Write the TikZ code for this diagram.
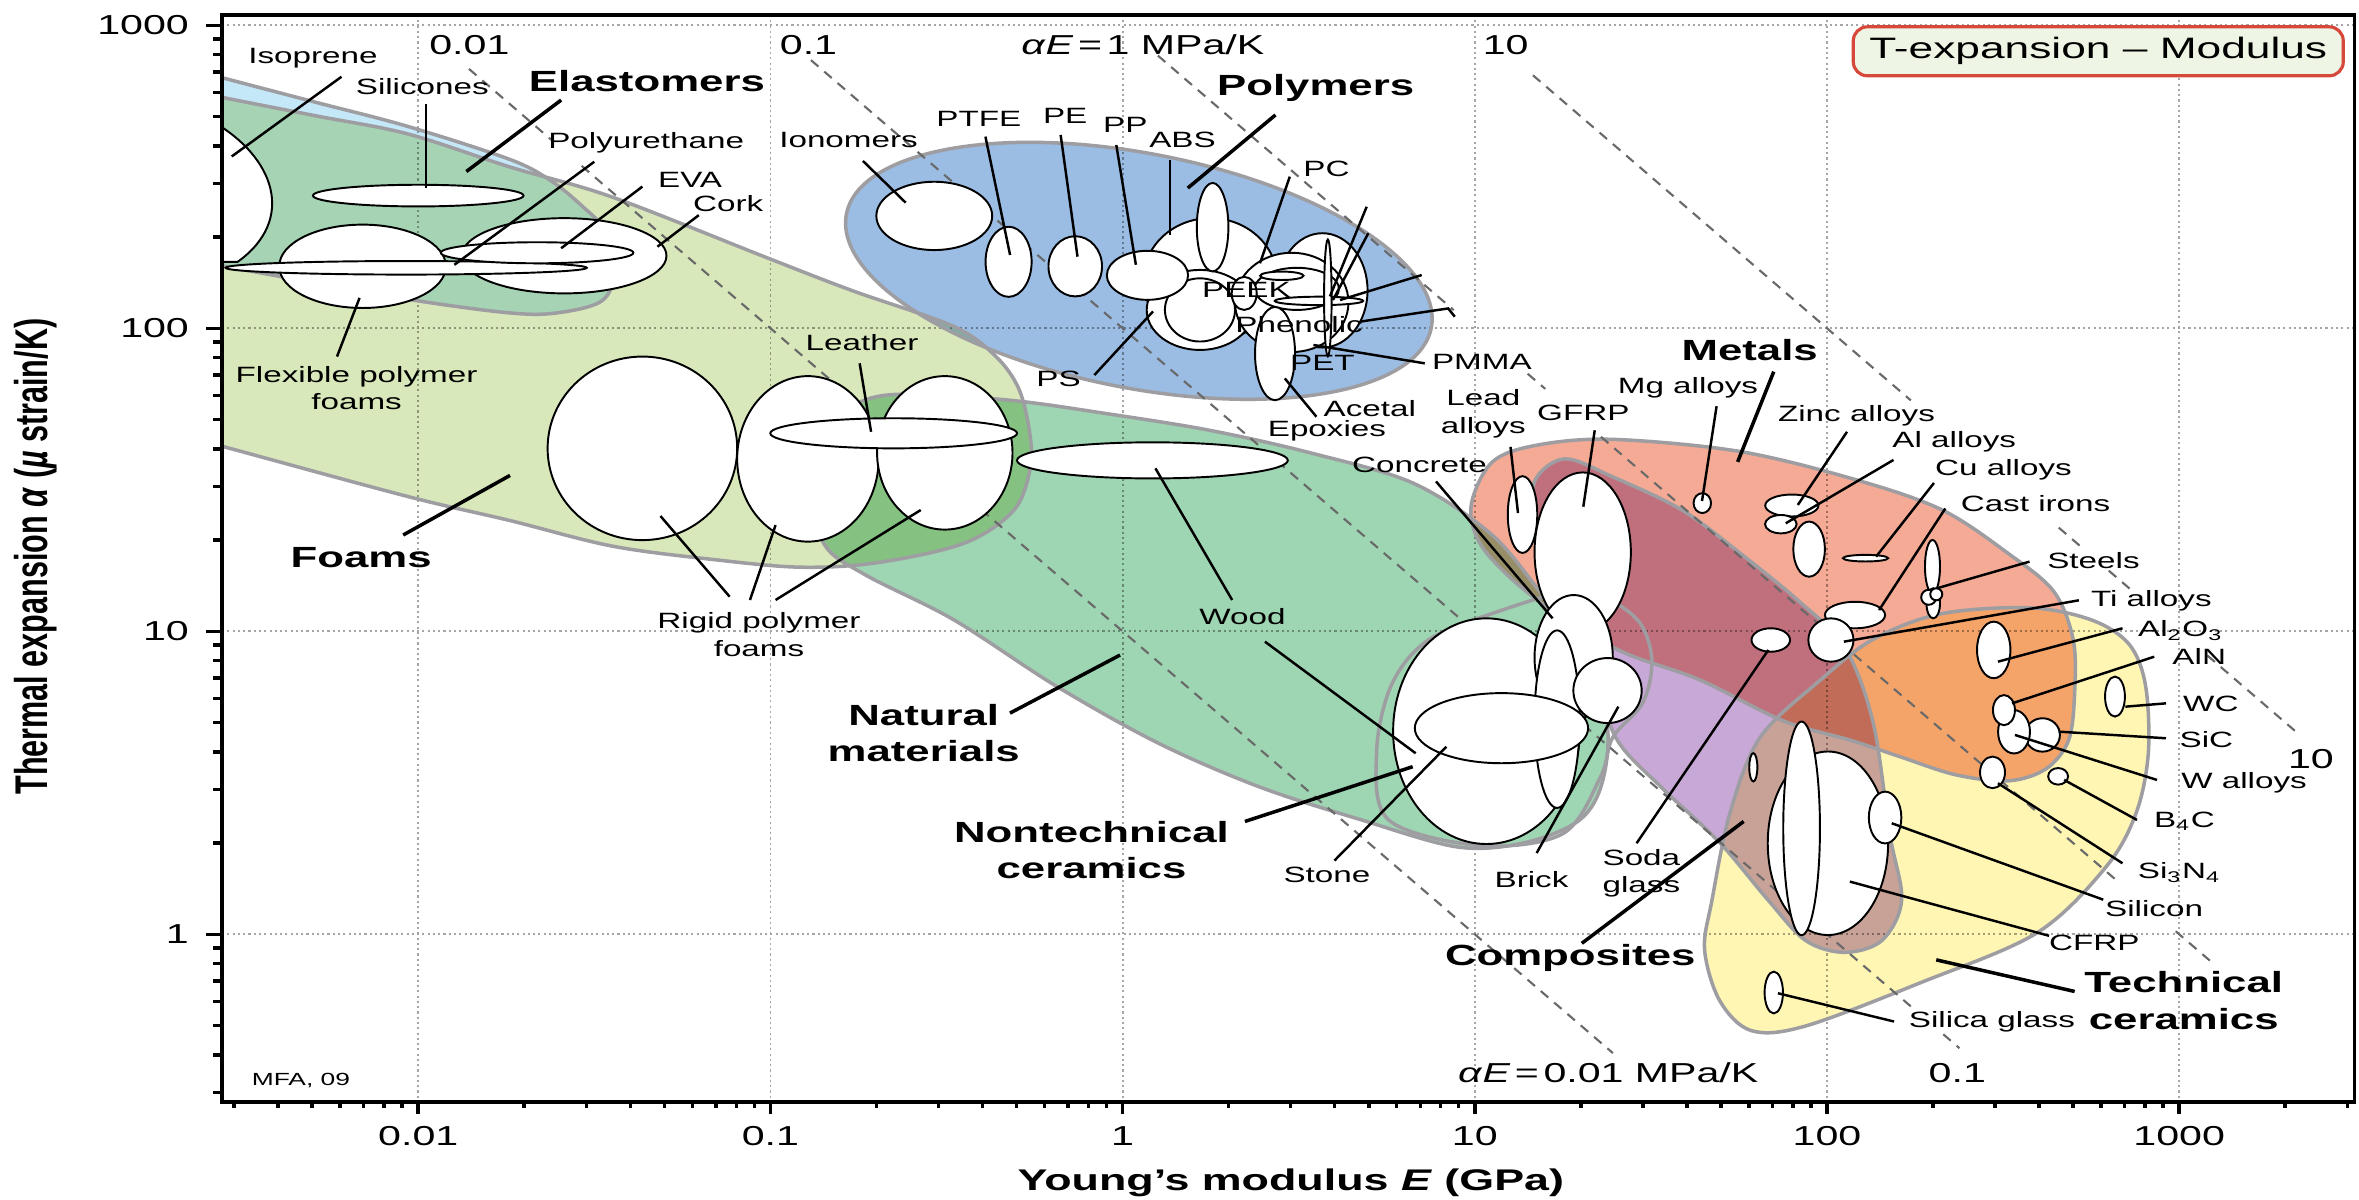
\documentclass[tikz,border=0pt]{standalone}
\usepackage{fontspec}
\setmainfont{Liberation Sans}[FakeStretch=1.5]
\newfontfamily\plainsans{Liberation Sans}
\usepackage{graphicx}

\definecolor{foamgreen}{RGB}{216,232,186}
\definecolor{elastblue}{RGB}{196,232,248}
\definecolor{polyblue}{RGB}{155,189,228}
\definecolor{natgreen}{RGB}{158,213,178}
\definecolor{metalsalmon}{RGB}{245,170,150}
\definecolor{compviolet}{RGB}{200,168,214}
\definecolor{ceramyellow}{RGB}{255,246,180}
\definecolor{hullgray}{RGB}{158,158,162}
\definecolor{guidegray}{RGB}{105,105,105}
\definecolor{gridgray}{RGB}{165,165,165}
\definecolor{boxred}{RGB}{214,72,58}
\definecolor{boxfill}{RGB}{238,245,228}

% envelopes of the material families
\newcommand{\elasthull}{plot[smooth cycle, tension=0.55] coordinates {(100,39) (149,52) (210,68) (271,84) (339,106) (366,120) (387,137) (404,155) (409,180) (400,200) (370,208) (339,208) (278,200) (210,188) (149,177) (100,168)}}
\newcommand{\foamhull}{plot[smooth cycle, tension=0.55] coordinates {(100,55) (149,65) (210,77) (271,89) (339,111) (407,131) (509,171) (566,193) (634,217) (662,237) (677,258) (684,285) (685,310) (674,339) (641,361) (583,374) (532,377) (475,372) (407,363) (339,346) (271,330) (149,297) (100,284)}}
\newcommand{\polyhull}{(757,180) ellipse [x radius=198, y radius=78]}
\newcommand{\naturalhull}{plot[smooth cycle, tension=0.55] coordinates {(600,262) (671,266) (736,275) (804,286) (871,301) (939,321) (990,354) (1021,390) (1050,430) (1068,480) (1065,520) (1050,545) (1014,560) (969,563) (905,545) (837,523) (770,494) (702,456) (634,412) (575,382) (548,362) (540,325) (552,285) (570,268)}}
\newcommand{\metalhull}{plot[smooth cycle, tension=0.55] coordinates {(978,335) (992,307) (1021,296) (1071,292) (1156,300) (1234,319) (1291,339) (1335,368) (1365,393) (1378,425) (1379,460) (1375,492) (1360,511) (1335,519) (1300,515) (1263,503) (1230,492) (1185,479) (1130,452) (1080,434) (1040,412) (1005,385) (983,360)}}
\newcommand{\comphull}{plot[smooth cycle, tension=0.55] coordinates {(1040,305) (1072,317) (1118,339) (1157,368) (1195,399) (1226,430) (1245,480) (1256,554) (1264,598) (1251,625) (1226,633) (1200,625) (1175,598) (1143,560) (1105,524) (1075,492) (1060,450) (1040,400) (1022,350) (1020,320)}}
\newcommand{\ceramhull}{plot[smooth cycle, tension=0.55] coordinates {(1210,452) (1245,425) (1290,408) (1349,404) (1390,412) (1415,428) (1426,455) (1428,500) (1420,540) (1400,576) (1354,620) (1277,653) (1200,682) (1164,685) (1143,665) (1133,631) (1138,598) (1150,540) (1170,490)}}
\newcommand{\nontechhull}{plot[smooth cycle, tension=0.55] coordinates {(923,545) (984,562) (1039,554) (1064,516) (1072,490) (1092,467) (1098,439) (1090,414) (1068,398) (1040,394) (1000,405) (950,425) (925,455) (915,500)}}

% guide line alpha*E = 10^(#1-3) MPa/K, drawn from log E = #2 to log E = #3
\newcommand{\guideseg}[3]{\draw[guide] ({746.2+234.1*(#2)},{621-201.4*((#1)-(#2))}) -- ({746.2+234.1*(#3)},{621-201.4*((#1)-(#3))});}

\tikzset{
  lbl/.style={inner sep=0pt, align=center, font=\fontsize{6.3}{7.8}\selectfont},
  grp/.style={inner sep=0pt, align=center, font=\fontsize{8.3}{10.3}\selectfont\bfseries},
  ticklbl/.style={inner sep=0pt, font=\fontsize{7.8}{9}\selectfont},
  blob/.style={draw=black, fill=white, line width=0.55pt},
  leader/.style={draw=black, line width=0.7pt},
  grpleader/.style={draw=black, line width=1pt},
  hull/.style={draw=hullgray, line width=1pt},
  polytilt/.style={rotate around={-11:(757,180)}},
  guide/.style={draw=guidegray, line width=0.6pt, dash pattern=on 2.8pt off 2.2pt},
  gridline/.style={draw=gridgray, line width=0.5pt, dash pattern=on 0.6pt off 0.9pt},
  axistick/.style={draw=black, line width=1pt},
  axisline/.style={draw=black, line width=1.1pt}
}

\begin{document}
\begin{tikzpicture}[x=0.015045cm, y=-0.015045cm]
    \useasboundingbox (0,0) rectangle (1568,797);

    % Define the corners of the plot frame
    \coordinate (LL) at (147.6,732.5);
    \coordinate (UR) at (1565,10);

    % Dotted grid at the decades
    \foreach \d in {-2,...,3}
        \draw[gridline] ({746.2+234.1*\d},10) -- ({746.2+234.1*\d},732.5);
    \foreach \d in {0,...,3}
        \draw[gridline] (147.6,{621-201.4*\d}) -- (1565,{621-201.4*\d});

    \begin{scope}
        \clip (LL) rectangle (UR);

        % Fill the family envelopes
        \begin{scope}[blend mode=multiply]
            \fill[foamgreen] \foamhull;
            \fill[elastblue] \elasthull;
            \fill[polyblue, polytilt] \polyhull;
            \fill[natgreen] \naturalhull;
            \fill[metalsalmon] \metalhull;
            \fill[compviolet] \comphull;
            \fill[ceramyellow] \ceramhull;
        \end{scope}

        % Outline the envelopes
        \draw[hull] \foamhull;
        \draw[hull] \elasthull;
        \draw[hull, polytilt] \polyhull;
        \draw[hull] \naturalhull;
        \draw[hull] \nontechhull;
        \draw[hull] \metalhull;
        \draw[hull] \comphull;
        \draw[hull] \ceramhull;

        % Guide lines of constant alpha*E
        \guideseg{1}{-1.856}{-1.622}
        \guideseg{1}{-1.536}{1.392}
        \guideseg{2}{-0.885}{2.244}
        \guideseg{2}{2.33}{2.376}
        \guideseg{3}{0.1}{0.94}
        \guideseg{3}{1.15}{1.2}
        \guideseg{3}{1.358}{2.83}
        \guideseg{3}{2.99}{3.10}
        \guideseg{4}{1.165}{2.238}
        \guideseg{4}{2.658}{2.72}
        \guideseg{4}{2.80}{2.86}
        \guideseg{4}{3.08}{3.333}

        % Elastomers and foams
        \draw[blob] (241,177) ellipse [x radius=55.4, y radius=27.7];
        \draw[blob] (375,170) ellipse [x radius=68, y radius=25];
        \draw[blob] (270,178) ellipse [x radius=120, y radius=4.5];
        \draw[blob] (357,168) ellipse [x radius=64, y radius=7];
        \draw[blob] (278,130) ellipse [x radius=70, y radius=7.2];
        \draw[blob] (140,80) .. controls (183,104) and (197,146) .. (158,174) -- (120,174) -- (120,80) -- cycle;
        \draw[blob] (427,298) ellipse [x radius=63, y radius=61];
        \draw[blob] (537,305) ellipse [x radius=47, y radius=55];
        \draw[blob] (628,301) ellipse [x radius=45, y radius=51];
        \draw[blob] (594,288) ellipse [x radius=82, y radius=10];

        % Polymers
        \draw[blob] (621,143.5) ellipse [x radius=38.5, y radius=22.7];
        \draw[blob] (670.4,174) ellipse [x radius=15.3, y radius=23.3];
        \draw[blob] (714.7,177) ellipse [x radius=17.8, y radius=20];
        \draw[blob] (804.5,186) ellipse [x radius=44.5, y radius=41];
        \draw[blob] (797.6,206) ellipse [x radius=35.4, y radius=26.6];
        \draw[blob] (797.6,206) ellipse [x radius=23.3, y radius=21];
        \draw[blob] (806,151) ellipse [x radius=10.5, y radius=29.4];
        \draw[blob] (762.7,183) ellipse [x radius=27, y radius=16.3];
        \draw[blob] (879,193) ellipse [x radius=30, y radius=38];
        \draw[blob] (858.6,201) ellipse [x radius=37.7, y radius=33];
        \draw[blob] (862,192) ellipse [x radius=28, y radius=14];
        \draw[blob] (827,195) ellipse [x radius=8.3, y radius=11];
        \draw[blob] (847.5,235) ellipse [x radius=13.3, y radius=31];
        \draw[blob] (852,183.3) ellipse [x radius=14.4, y radius=2.8];
        \draw[blob] (876.7,200) ellipse [x radius=29.4, y radius=2.8];
        \draw[blob] (882.6,198) ellipse [x radius=2.5, y radius=38.8];

        % Natural materials and nontechnical ceramics
        \draw[blob] (766,306) ellipse [x radius=90, y radius=12];
        \draw[blob] (1012,342) ellipse [x radius=9.8, y radius=25.5];
        \draw[blob] (1052,367) ellipse [x radius=32, y radius=53];
        \draw[blob] (988,486) ellipse [x radius=62, y radius=75];
        \draw[blob] (1046,437) ellipse [x radius=26, y radius=41.5];
        \draw[blob] (1035,478) ellipse [x radius=15, y radius=59];
        \draw[blob] (1068.5,459) ellipse [x radius=22.7, y radius=21.6];
        \draw[blob] (998,484) ellipse [x radius=57.6, y radius=23.3];

        % Metals
        \draw[blob] (1131.5,334.4) ellipse [x radius=5.8, y radius=6.6];
        \draw[blob] (1191,336) ellipse [x radius=17.7, y radius=7.3];
        \draw[blob] (1183.7,348.4) ellipse [x radius=10.5, y radius=6.1];
        \draw[blob] (1202.5,365) ellipse [x radius=10.5, y radius=18.3];
        \draw[blob] (1240,371) ellipse [x radius=15, y radius=2.2];
        \draw[blob] (1284.5,376.6) ellipse [x radius=5, y radius=17.7];
        \draw[blob] (1285,401) ellipse [x radius=4.5, y radius=10];
        \draw[blob] (1282,397) ellipse [x radius=5, y radius=5];
        \draw[blob] (1287,395) ellipse [x radius=4, y radius=4];
        \draw[blob] (1233,408.8) ellipse [x radius=20, y radius=8.8];
        \draw[blob] (1217,425.4) ellipse [x radius=15, y radius=14.4];
        \draw[blob] (1177,425.4) ellipse [x radius=12.8, y radius=7.8];

        % Technical ceramics and composites
        \draw[blob] (1325.2,432) ellipse [x radius=11.1, y radius=18.8];
        \draw[blob] (1357.6,488.5) ellipse [x radius=11.6, y radius=11.1];
        \draw[blob] (1338.7,486.4) ellipse [x radius=10.6, y radius=14.4];
        \draw[blob] (1332,472) ellipse [x radius=7.3, y radius=10];
        \draw[blob] (1405.8,463) ellipse [x radius=6.6, y radius=13.3];
        \draw[blob] (1324.4,513.4) ellipse [x radius=8.3, y radius=10.5];
        \draw[blob] (1368,516) ellipse [x radius=6.6, y radius=5.5];
        \draw[blob] (1165.4,510) ellipse [x radius=2.7, y radius=9.4];
        \draw[blob] (1215,560.5) ellipse [x radius=40, y radius=61];
        \draw[blob] (1197.5,550.6) ellipse [x radius=12.2, y radius=71];
        \draw[blob] (1253,543.4) ellipse [x radius=10.8, y radius=17.2];
        \draw[blob] (1179,659.7) ellipse [x radius=6.1, y radius=13.9];
    \end{scope}

    % Define the ends of the leader lines
    \coordinate (isoA) at (227,51);        \coordinate (isoB) at (154,104);
    \coordinate (silA) at (283,69);        \coordinate (silB) at (283,125);
    \coordinate (elaA) at (373,66.5);      \coordinate (elaB) at (310,114);
    \coordinate (purA) at (395,107.5);     \coordinate (purB) at (302,176);
    \coordinate (evaA) at (427,124);       \coordinate (evaB) at (373,165);
    \coordinate (corA) at (464.5,143);     \coordinate (corB) at (437,164);
    \coordinate (flxA) at (239,198);       \coordinate (flxB) at (224,237);
    \coordinate (foaA) at (339,316);       \coordinate (foaB) at (268,355.6);
    \coordinate (rg1A) at (439,343);       \coordinate (rg1B) at (485,396.6);
    \coordinate (rg2A) at (515.5,349);     \coordinate (rg2B) at (498.5,398.8);
    \coordinate (rg3A) at (612,339);       \coordinate (rg3B) at (515.5,398.8);
    \coordinate (leaA) at (571.4,241.5);   \coordinate (leaB) at (579,287);
    \coordinate (natA) at (744.5,435.4);   \coordinate (natB) at (671.3,474);
    \coordinate (wd1A) at (768,311.3);     \coordinate (wd1B) at (819,398.8);
    \coordinate (wd2A) at (840.8,426.5);   \coordinate (wd2B) at (941,500.7);
    \coordinate (ntcA) at (827.5,546);     \coordinate (ntcB) at (939,509.6);
    \coordinate (stoA) at (887,572);       \coordinate (stoB) at (961.4,496.3);
    \coordinate (brkA) at (1021.4,567);    \coordinate (brkB) at (1075.7,469.7);
    \coordinate (conA) at (954.5,320);     \coordinate (conB) at (1032,411);
    \coordinate (ionA) at (573.6,107);     \coordinate (ionB) at (602,134.7);
    \coordinate (ptfA) at (655,90.8);      \coordinate (ptfB) at (671.4,169.5);
    \coordinate (peA) at (705,89.7);       \coordinate (peB) at (716.2,170.6);
    \coordinate (ppA) at (742,96.4);       \coordinate (ppB) at (755,176);
    \coordinate (absA) at (777.7,106.3);   \coordinate (absB) at (777.7,156);
    \coordinate (polA) at (847.8,76.4);    \coordinate (polB) at (789.5,125);
    \coordinate (pcA) at (857.3,117.4);    \coordinate (pcB) at (837.5,175);
    \coordinate (ex1A) at (908.4,137.4);   \coordinate (ex1B) at (884,197);
    \coordinate (ex2A) at (909.5,155);     \coordinate (ex2B) at (886,199.4);
    \coordinate (ex3A) at (945,182.8);     \coordinate (ex3B) at (890.7,199.4);
    \coordinate (phnA) at (904,213.8);     \coordinate (phnB) at (962.6,205);
    \coordinate (phnC) at (967,210.5);
    \coordinate (pmmA) at (947,241.5);     \coordinate (pmmB) at (873,229.3);
    \coordinate (psA) at (727.4,249.3);    \coordinate (psB) at (766.4,207);
    \coordinate (aceA) at (875,277);       \coordinate (aceB) at (854,251.5);
    \coordinate (ledA) at (1004,297);      \coordinate (ledB) at (1009,341);
    \coordinate (gfrA) at (1060,286);      \coordinate (gfrB) at (1052.4,336.8);
    \coordinate (mgA) at (1141,270);       \coordinate (mgB) at (1131.3,333);
    \coordinate (metA) at (1179,247);      \coordinate (metB) at (1155,307);
    \coordinate (znA) at (1227.7,287);     \coordinate (znB) at (1195,335.6);
    \coordinate (alA) at (1258.6,305.7);   \coordinate (alB) at (1187,347.8);
    \coordinate (cuA) at (1285.5,321);     \coordinate (cuB) at (1247,370);
    \coordinate (ciA) at (1293,338);       \coordinate (ciB) at (1249,405.5);
    \coordinate (stlA) at (1349,373.3);    \coordinate (stlB) at (1287.5,391);
    \coordinate (tiA) at (1381.8,399);     \coordinate (tiB) at (1225.6,426.5);
    \coordinate (sodA) at (1087.8,560.5);  \coordinate (sodB) at (1175.4,432);
    \coordinate (cmpA) at (1051.4,627);    \coordinate (cmpB) at (1159,546);
    \coordinate (cfrA) at (1362,622);      \coordinate (cfrB) at (1229.6,586);
    \coordinate (aloA) at (1410.8,417.6);  \coordinate (aloB) at (1328,439.8);
    \coordinate (alnA) at (1431.9,436.5);  \coordinate (alnB) at (1337.4,467.5);
    \coordinate (wcA) at (1439.7,467.5);   \coordinate (wcB) at (1412.7,469.7);
    \coordinate (sicA) at (1439.7,490.7);  \coordinate (sicB) at (1368.4,486.3);
    \coordinate (wA) at (1433.7,518.4);    \coordinate (wB) at (1339.3,488.5);
    \coordinate (b4cA) at (1420.4,545);    \coordinate (b4cB) at (1372,518.4);
    \coordinate (sinA) at (1410.8,573.8);  \coordinate (sinB) at (1328,520.6);
    \coordinate (slnA) at (1398,598);      \coordinate (slnB) at (1257.4,547.2);
    \coordinate (tcrA) at (1379,659);      \coordinate (tcrB) at (1287,638);
    \coordinate (slgA) at (1259,679);      \coordinate (slgB) at (1181.8,660.2);

    % Draw the leader lines
    \draw[leader] (isoA) -- (isoB);
    \draw[leader] (silA) -- (silB);
    \draw[grpleader] (elaA) -- (elaB);
    \draw[leader] (purA) -- (purB);
    \draw[leader] (evaA) -- (evaB);
    \draw[leader] (corA) -- (corB);
    \draw[leader] (flxA) -- (flxB);
    \draw[grpleader] (foaA) -- (foaB);
    \draw[leader] (rg1A) -- (rg1B);
    \draw[leader] (rg2A) -- (rg2B);
    \draw[leader] (rg3A) -- (rg3B);
    \draw[leader] (leaA) -- (leaB);
    \draw[grpleader] (natA) -- (natB);
    \draw[leader] (wd1A) -- (wd1B);
    \draw[leader] (wd2A) -- (wd2B);
    \draw[grpleader] (ntcA) -- (ntcB);
    \draw[leader] (stoA) -- (stoB);
    \draw[leader] (brkA) -- (brkB);
    \draw[leader] (conA) -- (conB);
    \draw[leader] (ionA) -- (ionB);
    \draw[leader] (ptfA) -- (ptfB);
    \draw[leader] (peA) -- (peB);
    \draw[leader] (ppA) -- (ppB);
    \draw[leader] (absA) -- (absB);
    \draw[grpleader] (polA) -- (polB);
    \draw[leader] (pcA) -- (pcB);
    \draw[leader] (ex1A) -- (ex1B);
    \draw[leader] (ex2A) -- (ex2B);
    \draw[leader] (ex3A) -- (ex3B);
    \draw[leader] (phnA) -- (phnB) -- (phnC);
    \draw[leader] (pmmA) -- (pmmB);
    \draw[leader] (psA) -- (psB);
    \draw[leader] (aceA) -- (aceB);
    \draw[leader] (ledA) -- (ledB);
    \draw[leader] (gfrA) -- (gfrB);
    \draw[leader] (mgA) -- (mgB);
    \draw[grpleader] (metA) -- (metB);
    \draw[leader] (znA) -- (znB);
    \draw[leader] (alA) -- (alB);
    \draw[leader] (cuA) -- (cuB);
    \draw[leader] (ciA) -- (ciB);
    \draw[leader] (stlA) -- (stlB);
    \draw[leader] (tiA) -- (tiB);
    \draw[leader] (sodA) -- (sodB);
    \draw[grpleader] (cmpA) -- (cmpB);
    \draw[leader] (cfrA) -- (cfrB);
    \draw[leader] (aloA) -- (aloB);
    \draw[leader] (alnA) -- (alnB);
    \draw[leader] (wcA) -- (wcB);
    \draw[leader] (sicA) -- (sicB);
    \draw[leader] (wA) -- (wB);
    \draw[leader] (b4cA) -- (b4cB);
    \draw[leader] (sinA) -- (sinB);
    \draw[leader] (slnA) -- (slnB);
    \draw[grpleader] (tcrA) -- (tcrB);
    \draw[leader] (slgA) -- (slgB);

    % Place the family labels
    \node[grp] (elastomers) at (430,53.7) {Elastomers};
    \node[grp] (polymers) at (874.5,58.7) {Polymers};
    \node[grp] (foams) at (240,370.4) {Foams};
    \node[grp] (natural) at (614,487) {Natural\\materials};
    \node[grp] (nontech) at (725.5,565) {Nontechnical\\ceramics};
    \node[grp] (metals) at (1163,233) {Metals};
    \node[grp] (composites) at (1043.7,637) {Composites};
    \node[grp] (techcer) at (1451.5,665) {Technical\\ceramics};

    % Place the material labels
    \node[lbl] (isoprene) at (208,38.6) {Isoprene};
    \node[lbl] (silicones) at (280.7,57.6) {Silicones};
    \node[lbl] (polyurethane) at (429.5,95) {Polyurethane};
    \node[lbl] (eva) at (458.7,119.5) {EVA};
    \node[lbl] (cork) at (484,135) {Cork};
    \node[lbl] (flexfoam) at (237,257.8) {Flexible polymer\\foams};
    \node[lbl] (rigidfoam) at (504.5,421.7) {Rigid polymer\\foams};
    \node[lbl] (leather) at (573,227.7) {Leather};
    \node[lbl] (wood) at (825.8,409.8) {Wood};
    \node[lbl] (stone) at (882,581.7) {Stone};
    \node[lbl] (brick) at (1018,584.7) {Brick};
    \node[lbl] (concrete) at (943.5,309) {Concrete};
    \node[lbl] (leadalloys) at (986,275) {Lead\\alloys};
    \node[lbl] (gfrp) at (1052.4,274.6) {GFRP};
    \node[lbl] (mgalloys) at (1122,257.6) {Mg alloys};
    \node[lbl] (zincalloys) at (1234,276.4) {Zinc alloys};
    \node[lbl] (alalloys) at (1299,293.6) {Al alloys};
    \node[lbl] (cualloys) at (1331.7,312.4) {Cu alloys};
    \node[lbl] (castirons) at (1353,335) {Cast irons};
    \node[lbl] (steels) at (1391.5,372.8) {Steels};
    \node[lbl] (tialloys) at (1430,399.4) {Ti alloys};
    \node[lbl] (alumina) at (1449.4,419) {Al\textsubscript{2}O\textsubscript{3}};
    \node[lbl] (aln) at (1461.8,436.5) {AlN};
    \node[lbl] (wc) at (1469.5,468) {WC};
    \node[lbl] (sic) at (1466.6,491.3) {SiC};
    \node[lbl] (walloys) at (1491.6,520) {W alloys};
    \node[lbl] (bfourc) at (1452,546) {B\textsubscript{4}C};
    \node[lbl] (sinitride) at (1448.6,580) {Si\textsubscript{3}N\textsubscript{4}};
    \node[lbl] (silicon) at (1431.8,603.7) {Silicon};
    \node[lbl] (cfrp) at (1392,626.8) {CFRP};
    \node[lbl] (silicaglass) at (1324,679) {Silica glass};
    \node[lbl] (sodaglass) at (1091,580.5) {Soda\\glass};
    \node[lbl] (ionomers) at (564,93) {Ionomers};
    \node[lbl] (ptfe) at (650.6,78.7) {PTFE};
    \node[lbl] (pe) at (708,76.7) {PE};
    \node[lbl] (pp) at (748,83) {PP};
    \node[lbl] (abs) at (786,93) {ABS};
    \node[lbl] (pc) at (881.7,112) {PC};
    \node[lbl] (peek) at (828.5,192.7) {PEEK};
    \node[lbl] (phenolic) at (863.5,216) {Phenolic};
    \node[lbl] (pet) at (879,241.5) {PET};
    \node[lbl] (pmma) at (985,240.4) {PMMA};
    \node[lbl] (ps) at (703.6,251.5) {PS};
    \node[lbl] (acetal) at (910.5,271.4) {Acetal};
    \node[lbl] (epoxies) at (882,286.4) {Epoxies};

    % Place the guide line values
    \node[ticklbl] (gtopa) at (312,30) {0.01};
    \node[ticklbl] (gtopb) at (537.4,30) {0.1};
    \node[ticklbl] (gtopc) at (759.6,30) {\textit{α}\textit{E}\,=\,1 MPa/K};
    \node[ticklbl] (gtopd) at (1000.8,30) {10};
    \node[ticklbl] (gbota) at (1069,713) {\textit{α}\textit{E}\,=\,0.01 MPa/K};
    \node[ticklbl] (gbotb) at (1301,713) {0.1};
    \node[ticklbl] (gright) at (1536,504.5) {10};

    % Draw the frame and the ticks
    \draw[axisline] (LL) rectangle (UR);
    \foreach \m in {3,...,9}
        \draw[axistick] ({746.2+234.1*(-3+log10(\m))},732.5) -- ++(0,4);
    \foreach \d in {-2,...,2}
        \foreach \m in {2,...,9}
            \draw[axistick] ({746.2+234.1*(\d+log10(\m))},732.5) -- ++(0,4);
    \foreach \m in {2,3}
        \draw[axistick] ({746.2+234.1*(3+log10(\m))},732.5) -- ++(0,4);
    \foreach \d in {-2,...,3}
        \draw[axistick] ({746.2+234.1*\d},732.5) -- ++(0,8);
    \foreach \m in {3,...,9}
        \draw[axistick] (147.6,{621-201.4*(-1+log10(\m))}) -- ++(-6,0);
    \foreach \d in {0,1,2}
        \foreach \m in {2,...,9}
            \draw[axistick] (147.6,{621-201.4*(\d+log10(\m))}) -- ++(-6,0);
    \foreach \d in {0,...,3}
        \draw[axistick] (147.6,{621-201.4*\d}) -- ++(-11,0);

    % Tick labels
    \node[ticklbl, anchor=east] (ya) at (126,16.8) {1000};
    \node[ticklbl, anchor=east] (yb) at (126,218.2) {100};
    \node[ticklbl, anchor=east] (yc) at (126,419.6) {10};
    \node[ticklbl, anchor=east] (yd) at (126,621) {1};
    \node[ticklbl] (xa) at (278,755) {0.01};
    \node[ticklbl] (xb) at (512.1,755) {0.1};
    \node[ticklbl] (xc) at (746.2,755) {1};
    \node[ticklbl] (xd) at (980.3,755) {10};
    \node[ticklbl] (xe) at (1214.4,755) {100};
    \node[ticklbl] (xf) at (1448.5,755) {1000};

    % Axis titles
    \node[inner sep=0pt, font=\fontsize{8.5}{10}\selectfont\bfseries] (xtitle) at (858,786) {Young’s modulus \textit{E} (GPa)};
    \node[inner sep=0pt, rotate=90] (ytitle) at (24,370) {\scalebox{1}[1.5]{\plainsans\bfseries\fontsize{8.7}{10}\selectfont Thermal expansion \textit{α} (\textit{µ} strain/K)}};

    % Chart title and credit
    \node[draw=boxred, fill=boxfill, line width=0.9pt, rounded corners=4pt, inner sep=0pt, minimum width=4.9cm, minimum height=0.49cm, font=\fontsize{8.4}{10}\selectfont] (charttitle) at (1394.7,34.1) {T-expansion – Modulus};
    \node[inner sep=0pt, font=\fontsize{5}{6}\selectfont] (credit) at (200,718) {MFA, 09};
\end{tikzpicture}
\end{document}
